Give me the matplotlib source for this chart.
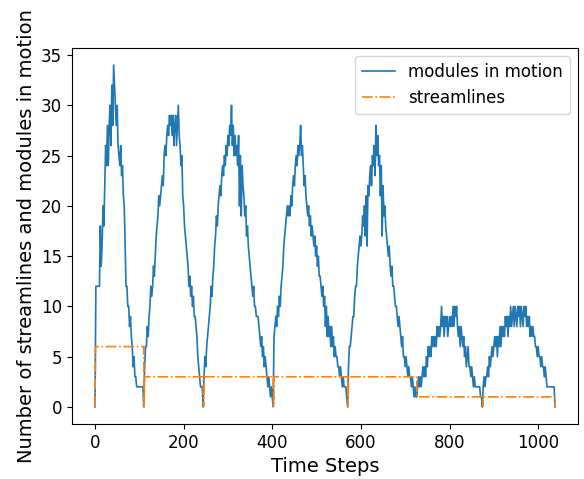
import numpy as np
import matplotlib
matplotlib.use("Agg")
import matplotlib.pyplot as plt

# Modules in motion, sampled every 2 time steps (t = 0, 2, ..., 1038)
hump1 = [0, 12, 12, 12, 12, 12, 18, 14, 16, 20, 18, 22, 26, 24, 28, 24, 28, 30, 26, 32,
         28, 34, 32, 30, 28, 30, 26, 25, 24, 26, 23, 24, 21, 20, 16, 12, 12, 10, 10, 8,
         9, 7, 6, 4, 5, 3, 3, 2, 2, 2, 2, 2, 2, 2, 2, 0]
hump2 = [4, 6, 6, 8, 7, 9, 10, 12, 11, 12, 14, 13, 15, 17, 18, 19, 21, 20, 21, 22,
         23, 22, 25, 26, 25, 27, 28, 27, 29, 28, 29, 27, 29, 26, 28, 29, 26, 28, 30, 27,
         26, 24, 25, 21, 20, 18, 17, 16, 15, 14, 12, 13, 11, 12, 10, 11, 9, 9, 8, 7,
         5, 4, 3, 2, 2, 2, 0]
hump3 = [3, 5, 4, 6, 7, 8, 9, 10, 12, 11, 13, 14, 16, 17, 19, 18, 20, 21, 22, 21,
         23, 24, 23, 25, 24, 26, 25, 27, 26, 28, 27, 30, 26, 28, 25, 27, 25, 26, 24, 27,
         20, 25, 19, 24, 22, 21, 19, 20, 17, 18, 16, 15, 14, 13, 12, 11, 12, 10, 10, 9,
         9, 9, 8, 7, 6, 7, 5, 6, 4, 5, 4, 3, 2, 3, 2, 1, 2, 1, 0]
hump4 = [7, 8, 9, 8, 10, 9, 11, 10, 12, 13, 14, 16, 17, 18, 19, 20, 19, 20, 19, 21,
         20, 22, 23, 22, 24, 25, 24, 26, 25, 26, 28, 25, 26, 24, 22, 23, 21, 20, 19, 20,
         18, 19, 17, 18, 17, 16, 17, 15, 16, 14, 15, 13, 13, 12, 11, 12, 10, 11, 8, 10,
         7, 9, 7, 8, 6, 8, 6, 7, 5, 6, 5, 5, 4, 4, 3, 4, 3, 2, 3, 2,
         2, 2, 1, 0]
hump5 = [4, 6, 6, 7, 8, 9, 9, 11, 12, 12, 14, 15, 16, 17, 16, 17, 19, 18, 20, 17,
         21, 16, 22, 21, 23, 24, 22, 25, 24, 26, 23, 28, 25, 27, 24, 25, 21, 24, 17, 22,
         19, 20, 18, 17, 16, 15, 16, 14, 13, 14, 12, 12, 11, 10, 10, 9, 8, 9, 8, 7,
         6, 7, 5, 5, 4, 5, 4, 3, 4, 3, 3, 2, 3, 2, 1, 2, 1, 1]
hump6 = [2, 3, 2, 3, 2, 3, 4, 3, 4, 3, 5, 4, 6, 5, 6, 5, 7, 6, 7, 6,
         7, 6, 8, 7, 8, 7, 8, 10, 8, 9, 7, 9, 8, 9, 7, 8, 9, 8, 9, 8,
         10, 8, 10, 9, 10, 8, 7, 8, 6, 8, 7, 6, 7, 5, 6, 4, 5, 6, 4, 4,
         3, 4, 3, 2, 3, 2, 2, 2, 2, 2, 2, 1, 1, 0]
hump7 = [2, 3, 2, 3, 3, 4, 3, 5, 4, 5, 6, 5, 6, 7, 6, 7, 5, 7, 6, 8,
         6, 8, 7, 8, 7, 9, 8, 9, 7, 9, 8, 10, 8, 9, 10, 8, 10, 9, 8, 10,
         9, 10, 8, 10, 9, 8, 10, 9, 10, 8, 9, 8, 9, 7, 8, 7, 8, 7, 7, 6,
         6, 5, 6, 5, 5, 4, 5, 4, 4, 3, 4, 3, 2, 2, 2, 2, 2, 2, 2, 2,
         2, 0]
modules = hump1 + hump2 + hump3 + hump4 + hump5 + hump6 + hump7
steps = np.arange(len(modules)) * 2

# Streamlines (step function breakpoints)
stream_t = [0, 1, 110, 111, 112, 244, 245, 246, 402, 403, 404, 570, 571, 572,
            726, 727, 874, 875, 876, 1037, 1038]
stream_v = [0, 6, 6, 0, 3, 3, 0, 3, 3, 0, 3, 3, 0, 3, 3, 1, 1, 0, 1, 1, 0]

fig = plt.figure(figsize=(5.84, 4.79), dpi=100)
ax = fig.add_axes([0.1233, 0.1148, 0.8664, 0.785])
ax.plot(steps, modules, color="#1f77b4", lw=1.2, label="modules in motion")
ax.plot(stream_t, stream_v, color="#ff7f0e", lw=1.2, ls="-.", label="streamlines")
ax.set_xlabel("Time Steps", fontsize=14)
ax.set_ylabel("Number of streamlines and modules in motion", fontsize=14)
ax.tick_params(labelsize=12)
ax.set_yticks([0, 5, 10, 15, 20, 25, 30, 35])
ax.set_xticks([0, 200, 400, 600, 800, 1000])
ax.legend(loc="upper right", fontsize=12)
fig.savefig("out.png", dpi=100)
